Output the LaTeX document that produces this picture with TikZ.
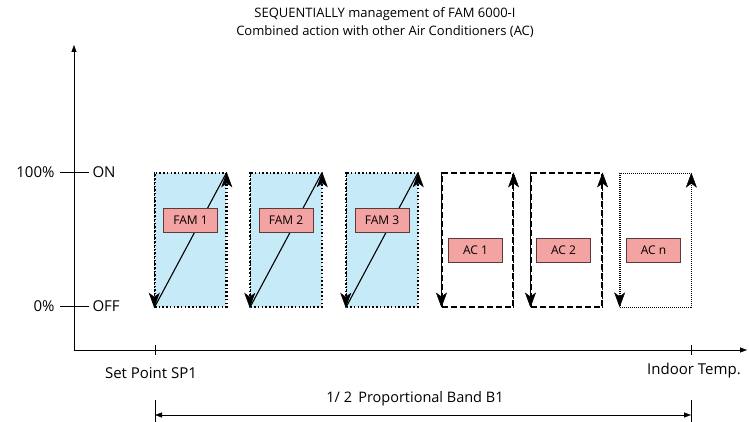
\documentclass[tikz,border=0pt]{standalone}
\usepackage{fontspec}
\setmainfont{Open Sans}
\usetikzlibrary{arrows.meta,positioning}
\definecolor{famblue}{HTML}{C6EAF8}
\definecolor{tagpink}{HTML}{F4A3A3}
\definecolor{tagline}{HTML}{5A3A3A}
\tikzset{
  unitbox/.style={minimum width=71pt,minimum height=134pt,inner sep=0pt},
  tag/.style={draw=tagline,fill=tagpink,minimum width=54pt,minimum height=24pt,inner sep=0pt,font=\fontsize{12}{14}\selectfont},
  barb/.style={-{Stealth[length=15pt,width=11pt,inset=4pt,line width=0.5pt]}},
  famdots/.style={line width=1.5pt,dash pattern=on 1.5pt off 2.2pt},
  acdash/.style={line width=1.1pt,dash pattern=on 6pt off 3pt},
  acdots/.style={line width=0.7pt,dash pattern=on 0.7pt off 1.3pt},
  axistip/.style={-{Triangle[length=7pt,width=5pt]}},
  lbl/.style={font=\fontsize{15}{17}\selectfont},
}

\begin{document}
\begin{tikzpicture}[x=1pt,y=-1pt]
\useasboundingbox (0,0) rectangle (749,422);
% title
\node[align=center,font=\fontsize{13}{18}\selectfont] (title) at (385,23) {SEQUENTIALLY management of FAM 6000-I\\Combined action with other Air Conditioners (AC)};

% axes
\coordinate (O) at (74,350);
\coordinate (ytop) at (74,45);
\coordinate (xend) at (747,350);
\draw[axistip] (O) -- (ytop);
\draw[axistip] (O) -- (xend);

% on / off levels
\node[lbl,anchor=west] (on) at (89,172) {ON};
\node[lbl,anchor=west] (off) at (89,306) {OFF};
\node[lbl,anchor=east] (pct100) at (58,172) {100\%};
\node[lbl,anchor=east] (pct0) at (58,306) {0\%};
\draw (60,172) -- (on.west);
\draw (60,306) -- (off.west);

% temperature ticks
\coordinate (sp) at (155,350);
\coordinate (tin) at (691,350);
\draw ([yshift=5pt]sp) -- ([yshift=-5pt]sp);
\draw ([yshift=5pt]tin) -- ([yshift=-5pt]tin);
\node[lbl] (splbl) at (151,373) {Set Point SP1};
\node[lbl] (tinlbl) at (694,371) {Indoor Temp.};

% FAM units
\foreach \i/\x in {1/190.5,2/286,3/382}{
  \node[unitbox,fill=famblue,draw,famdots] (fam\i) at (\x,240) {};
  \draw[famdots,barb] (fam\i.north west) -- (fam\i.south west);
  \draw[famdots,barb] (fam\i.south east) -- (fam\i.north east);
  \draw[line width=1.1pt] (fam\i.south west) -- (fam\i.north east);
  \node[tag] (famtag\i) at ([yshift=20pt]fam\i.center) {FAM \i};
}

% other air conditioners
\node[unitbox,draw,acdash] (ac1) at (477.5,240) {};
\node[unitbox,draw,acdash] (ac2) at (566.5,240) {};
\node[unitbox,draw,acdots] (acn) at (655.5,240) {};
\foreach \u/\s in {ac1/acdash,ac2/acdash,acn/acdots}{
  \draw[\s,barb] (\u.north west) -- (\u.south west);
  \draw[\s,barb] (\u.south east) -- (\u.north east);
}
\node[tag] (actag1) at ([xshift=-2pt,yshift=-10pt]ac1.center) {AC 1};
\node[tag] (actag2) at ([xshift=-3pt,yshift=-10pt]ac2.center) {AC 2};
\node[tag] (actagn) at ([xshift=-2pt,yshift=-10pt]acn.center) {AC n};

% proportional band
\coordinate (bandl) at (155,415);
\coordinate (bandr) at (691,415);
\draw (155,400) -- (155,422);
\draw (691,400) -- (691,422);
\draw[{Triangle[length=7pt,width=5pt]}-{Triangle[length=7pt,width=5pt]}] (bandl) -- (bandr)
  node[lbl,midway,above=5pt,xshift=-8pt,font=\fontsize{14.5}{17}\selectfont] (bandlbl) {1/ 2\, Proportional Band B1};
\end{tikzpicture}
\end{document}
